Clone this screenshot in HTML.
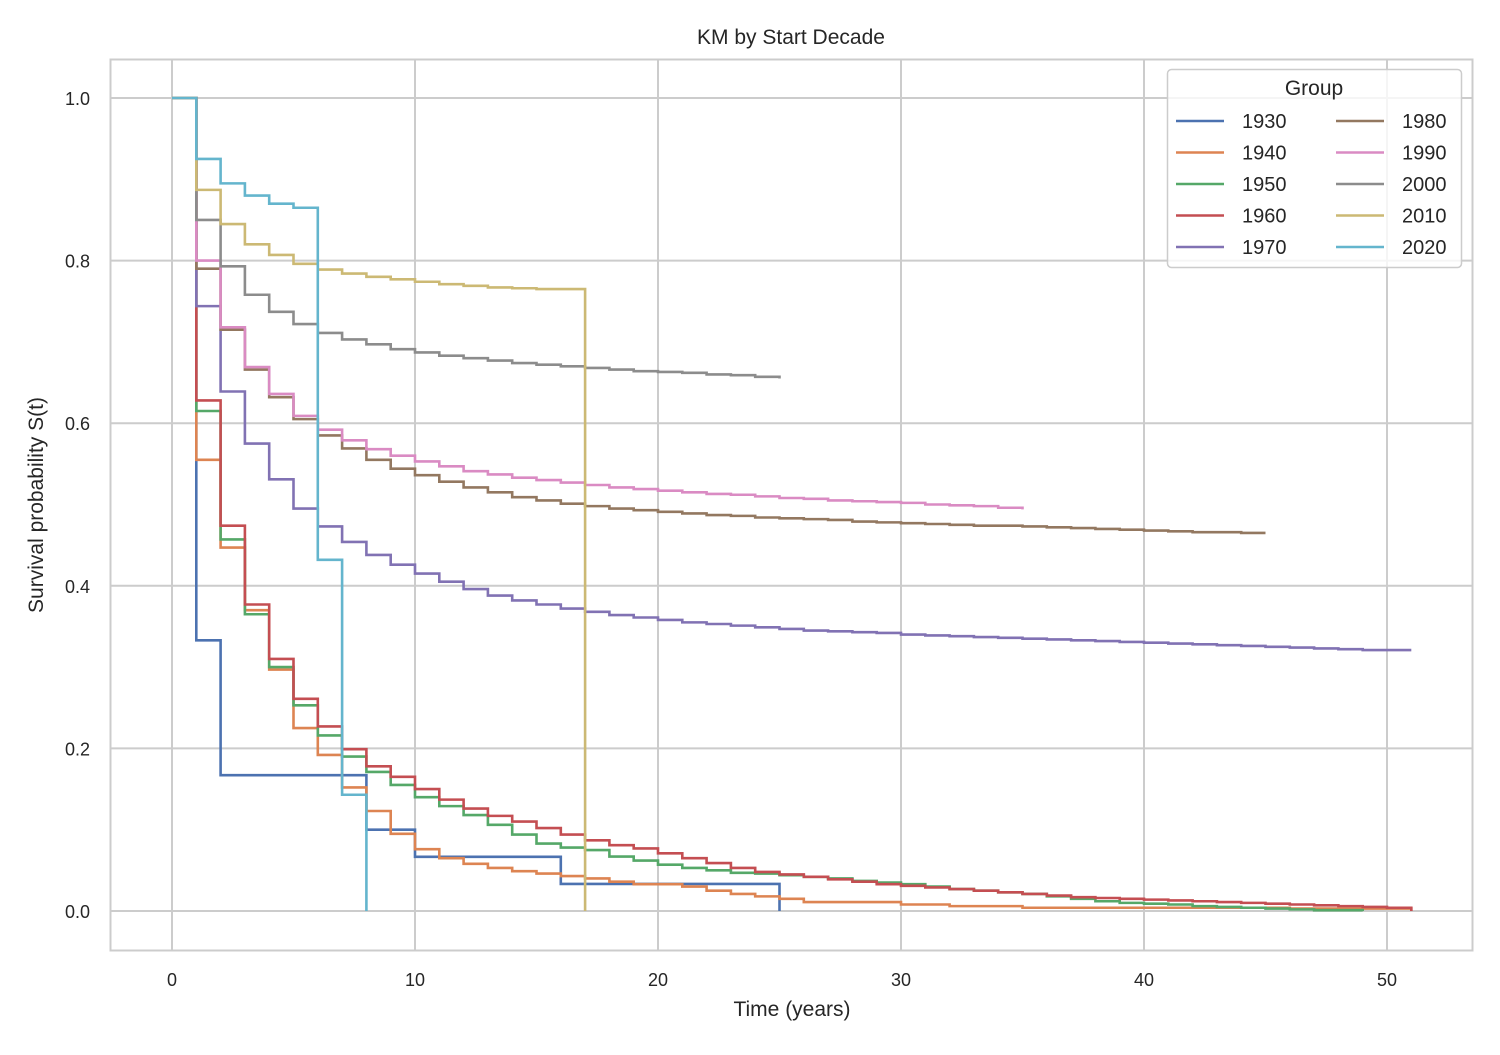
<!DOCTYPE html>
<html><head><meta charset="utf-8"><style>
body{margin:0;background:#fff;}
svg text{font-family:"Liberation Sans",Arial,sans-serif;fill:#262626;}
</style></head><body>
<svg id="chart" width="1500" height="1050" xmlns="http://www.w3.org/2000/svg">
<rect x="0" y="0" width="1500" height="1050" fill="#fff"/>
<g id="grid"></g>
<g id="series"></g>
<rect x="110.5" y="59.5" width="1362" height="891" fill="none" stroke="#cccccc" stroke-width="2"/>
<g id="ticks"></g>
<text x="791" y="44" font-size="21" text-anchor="middle">KM by Start Decade</text>
<text x="792" y="1016" font-size="21" text-anchor="middle">Time (years)</text>
<text transform="translate(43,505) rotate(-90)" font-size="21" text-anchor="middle">Survival probability S(t)</text>
<g id="legend"></g>
</svg>
<script>
const groups = ["1930","1940","1950","1960","1970","1980","1990","2000","2010","2020"];
const colors = ["#4c72b0","#dd8452","#55a868","#c44e52","#8172b3","#937860","#da8bc3","#8c8c8c","#ccb974","#64b5cd"];
const xTicks = [0,10,20,30,40,50];
const yTicks = [0.0,0.2,0.4,0.6,0.8,1.0];
const s1930 = [1,.333,.167,.167,.167,.167,.167,.167,.1,.1,.0667,.0667,.0667,.0667,.0667,.0667,.0333,.0333,.0333,.0333,.0333,.0333,.0333,.0333,.0333,0];
const s1940 = [1,.555,.447,.37,.297,.225,.192,.152,.123,.095,.076,.065,.058,.053,.049,.046,.043,.040,.036,.033,.033,.030,.025,.021,.018,.015,.011,.011,.011,.011,.008,.008,.006,.006,.006,.004,.004,.004,.004,.004,.004,.004,.004,.004,.004,.004,.003,.003,.003,.003,.003,0];
const s1950 = [1,.615,.457,.365,.3,.253,.216,.19,.171,.155,.140,.129,.118,.106,.094,.083,.078,.075,.067,.062,.057,.053,.050,.047,.046,.044,.042,.040,.037,.035,.033,.030,.027,.025,.023,.021,.018,.015,.012,.010,.009,.008,.006,.005,.004,.003,.002,.001,.001,0];
const s1960 = [1,.628,.474,.377,.31,.261,.227,.199,.178,.165,.150,.137,.126,.117,.110,.102,.094,.087,.081,.077,.071,.065,.059,.053,.048,.045,.042,.039,.036,.033,.031,.029,.027,.025,.023,.021,.019,.017,.016,.015,.014,.013,.012,.011,.010,.009,.008,.007,.006,.005,.004,0];
const s1970 = [1,.744,.639,.575,.531,.495,.473,.454,.438,.426,.415,.405,.396,.388,.382,.377,.372,.368,.364,.361,.358,.355,.353,.351,.349,.347,.345,.344,.343,.342,.340,.339,.338,.337,.336,.335,.334,.333,.332,.331,.330,.329,.328,.327,.326,.325,.324,.323,.322,.321,.321,.321];
const s1980 = [1,.79,.715,.666,.632,.605,.585,.569,.555,.544,.536,.528,.521,.515,.509,.505,.501,.498,.495,.493,.491,.489,.487,.486,.484,.483,.482,.481,.479,.478,.477,.476,.475,.474,.474,.473,.472,.471,.470,.469,.468,.467,.466,.466,.465,.465];
const s1990 = [1,.80,.718,.669,.636,.609,.592,.579,.568,.56,.553,.547,.541,.537,.533,.530,.527,.524,.521,.519,.517,.515,.513,.512,.510,.508,.507,.505,.504,.503,.502,.500,.499,.498,.496,.494];
const s2000 = [1,.85,.793,.758,.737,.722,.711,.703,.697,.691,.687,.683,.680,.677,.674,.672,.670,.668,.666,.664,.663,.662,.660,.659,.657,.655];
const s2010 = [1,.887,.845,.82,.807,.796,.789,.784,.780,.777,.774,.771,.769,.767,.766,.765,.765,0];
const s2020 = [1,.925,.895,.88,.87,.865,.432,.143,0];
const seriesData = [s1930,s1940,s1950,s1960,s1970,s1980,s1990,s2000,s2010,s2020];

const NS="http://www.w3.org/2000/svg";
function X(t){return 172+t*24.3;}
function Y(v){return 911-v*813;}
function mk(tag,attrs,parent){const e=document.createElementNS(NS,tag);for(const k in attrs)e.setAttribute(k,attrs[k]);parent.appendChild(e);return e;}
const grid=document.getElementById('grid'), ticks=document.getElementById('ticks'), ser=document.getElementById('series'), leg=document.getElementById('legend');
xTicks.forEach(t=>{
  const l=mk('line',{x1:X(t),x2:X(t),y1:60,y2:950,stroke:'#cccccc','stroke-width':2},grid);
  
  
  const tx=mk('text',{x:X(t),y:986,'font-size':18,'text-anchor':'middle'},ticks);
  tx.textContent=t;
  
  
});
yTicks.forEach(v=>{
  const l=mk('line',{x1:111,x2:1472,y1:Y(v),y2:Y(v),stroke:'#cccccc','stroke-width':2},grid);
  
  
  const tx=mk('text',{x:90,y:Y(v)+7,'font-size':18,'text-anchor':'end'},ticks);
  tx.textContent=v.toFixed(1);
  
  
});
seriesData.forEach((s,i)=>{
  let d='M'+X(0)+','+Y(s[0]);
  for(let k=0;k<s.length-1;k++){d+=' H'+X(k+1)+' V'+Y(s[k+1]);}
  const p=mk('path',{d:d,fill:'none',stroke:colors[i],'stroke-width':2.6},ser);
  
  
});
const lb=mk('rect',{x:1167.5,y:69.5,width:294,height:198,rx:4,fill:'#fff','fill-opacity':0.8,stroke:'#cccccc','stroke-width':1.5},leg);


const lt=mk('text',{x:1314,y:95,'font-size':21,'text-anchor':'middle'},leg);
lt.textContent='Group';


groups.forEach((g,i)=>{
  const col=Math.floor(i/5), row=i%5;
  const x0=col?1336:1176, y0=121+row*31.5;
  const ln=mk('line',{x1:x0,x2:x0+48,y1:y0,y2:y0,stroke:colors[i],'stroke-width':2.6},leg);
  
  
  const tx=mk('text',{x:x0+66,y:y0+7,'font-size':20},leg);
  tx.textContent=g;
  
  
});
</script>
</body></html>
